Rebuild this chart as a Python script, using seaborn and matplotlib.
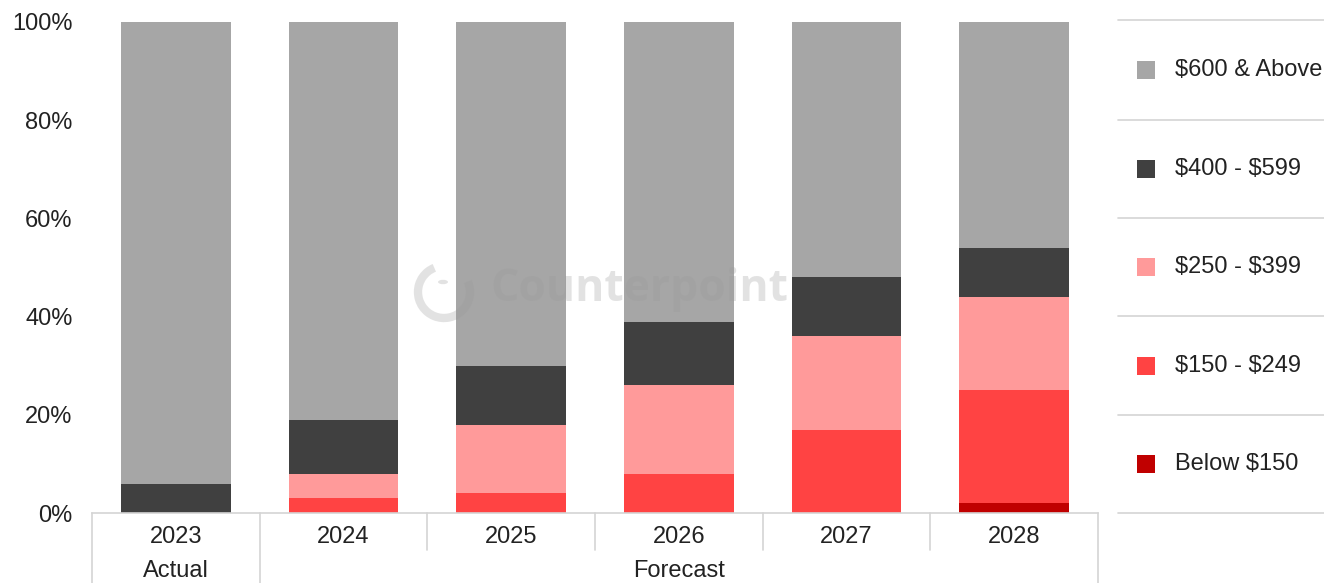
import matplotlib
matplotlib.use("Agg")
import matplotlib.pyplot as plt
import matplotlib.transforms as mtransforms
from matplotlib.patches import Rectangle, Arc, Circle
from matplotlib.lines import Line2D
import seaborn as sns
import numpy as np

# Price-band shares of shipments, by year (percent)
years = ["2023", "2024", "2025", "2026", "2027", "2028"]
below_150 = [0, 0, 0, 0, 0, 2]
band_150_249 = [0, 3, 4, 8, 17, 23]
band_250_399 = [0, 5, 14, 18, 19, 19]
band_400_599 = [6, 11, 12, 13, 12, 10]
band_600_up = [94, 81, 70, 61, 52, 46]

series_names = ["Below $150", "$150 - $249", "$250 - $399", "$400 - $599", "$600 & Above"]
series_values = [below_150, band_150_249, band_250_399, band_400_599, band_600_up]
series_colors = ["#C00000", "#FF4343", "#FF9A9A", "#404040", "#A6A6A6"]

period_labels = ["Actual", "Forecast"]
y_ticks = [0, 20, 40, 60, 80, 100]

sns.set_theme(style="white")
plt.rcParams["font.family"] = ["Liberation Sans", "DejaVu Sans"]
text_color = "#222222"
line_color = "#D4D4D4"
fs = 17

fig = plt.figure(figsize=(13.24, 5.83), dpi=100)
W, H = 1324, 583
ax = fig.add_axes([92 / W, (H - 513) / H, (1098 - 92) / W, (513 - 22) / H])

# Stacked bars, bottom band first
bottom = np.zeros(len(years))
for name, vals, col in zip(series_names, series_values, series_colors):
    v = np.array(vals, dtype=float)
    sns.barplot(x=years, y=v, bottom=bottom, color=col, width=0.655,
                ax=ax, saturation=1, linewidth=0, zorder=2)
    bottom += v

ax.set_xlim(-0.5, len(years) - 0.5)
ax.set_ylim(0, 100)
ax.set_yticks(y_ticks)
ax.set_yticklabels([f"{t}%" for t in y_ticks])
ax.tick_params(axis="y", length=0, pad=14, labelsize=fs, labelcolor=text_color)
ax.tick_params(axis="x", length=0, pad=9.5, labelsize=fs, labelcolor=text_color)
ax.set_xlabel("")
ax.set_ylabel("")
for s in ["left", "right", "top"]:
    ax.spines[s].set_visible(False)
ax.spines["bottom"].set_color(line_color)
ax.spines["bottom"].set_linewidth(1.2)
ax.grid(False)

# Category table beneath the axis
trans = mtransforms.blended_transform_factory(ax.transData, ax.transAxes)
y_full = -(H - 513) / (513 - 22)
y_short = -(550 - 513) / (513 - 22)
n = len(years)
for i in range(n + 1):
    xb = i - 0.5
    yb = y_full if i in (0, 1, n) else y_short
    ax.add_line(Line2D([xb, xb], [0, yb], transform=trans, color=line_color,
                       lw=1.2, clip_on=False))
y_period = -(571 - 513) / (513 - 22)
ax.text(0, y_period, period_labels[0], transform=trans, ha="center", va="center",
        fontsize=fs, color=text_color)
ax.text((1 + n - 1) / 2, y_period, period_labels[1], transform=trans, ha="center",
        va="center", fontsize=fs, color=text_color)

# Legend panel on the right, top entry first
row_edges = [20, 120, 218, 316, 415, 513]
for y in row_edges:
    fig.add_artist(Line2D([1118 / W, 1.0], [1 - y / H, 1 - y / H], color=line_color, lw=1.2))
legend_order = list(zip(series_names, series_colors))[::-1]
for k, (name, col) in enumerate(legend_order):
    yc = (row_edges[k] + row_edges[k + 1]) / 2
    fig.add_artist(Rectangle((1137 / W, 1 - (yc + 9) / H), 18 / W, 18 / H,
                             transform=fig.transFigure, facecolor=col, edgecolor="none"))
    fig.text(1175 / W, 1 - yc / H, name, ha="left", va="center", fontsize=fs,
             color=text_color, parse_math=False)

# Watermark
wm_color = "#9A9A9A"
wm_alpha = 0.28
fig.text(639 / W, 1 - 290 / H, "Counterpoint", ha="center", va="center",
         fontsize=32, fontweight="bold", color=wm_color, alpha=wm_alpha,
         family=["Open Sans", "DejaVu Sans"], zorder=5)
fig.add_artist(Arc((444 / W, 1 - 292 / H), 52 / W, 52 / H, theta1=100, theta2=405,
                   transform=fig.transFigure, color=wm_color, alpha=wm_alpha, lw=6, zorder=5))
fig.add_artist(Circle((443 / W, 1 - 282 / H), 5 / W, transform=fig.transFigure,
                      facecolor=wm_color, edgecolor="none", alpha=wm_alpha, zorder=5))

fig.savefig("out.png", dpi=100)
